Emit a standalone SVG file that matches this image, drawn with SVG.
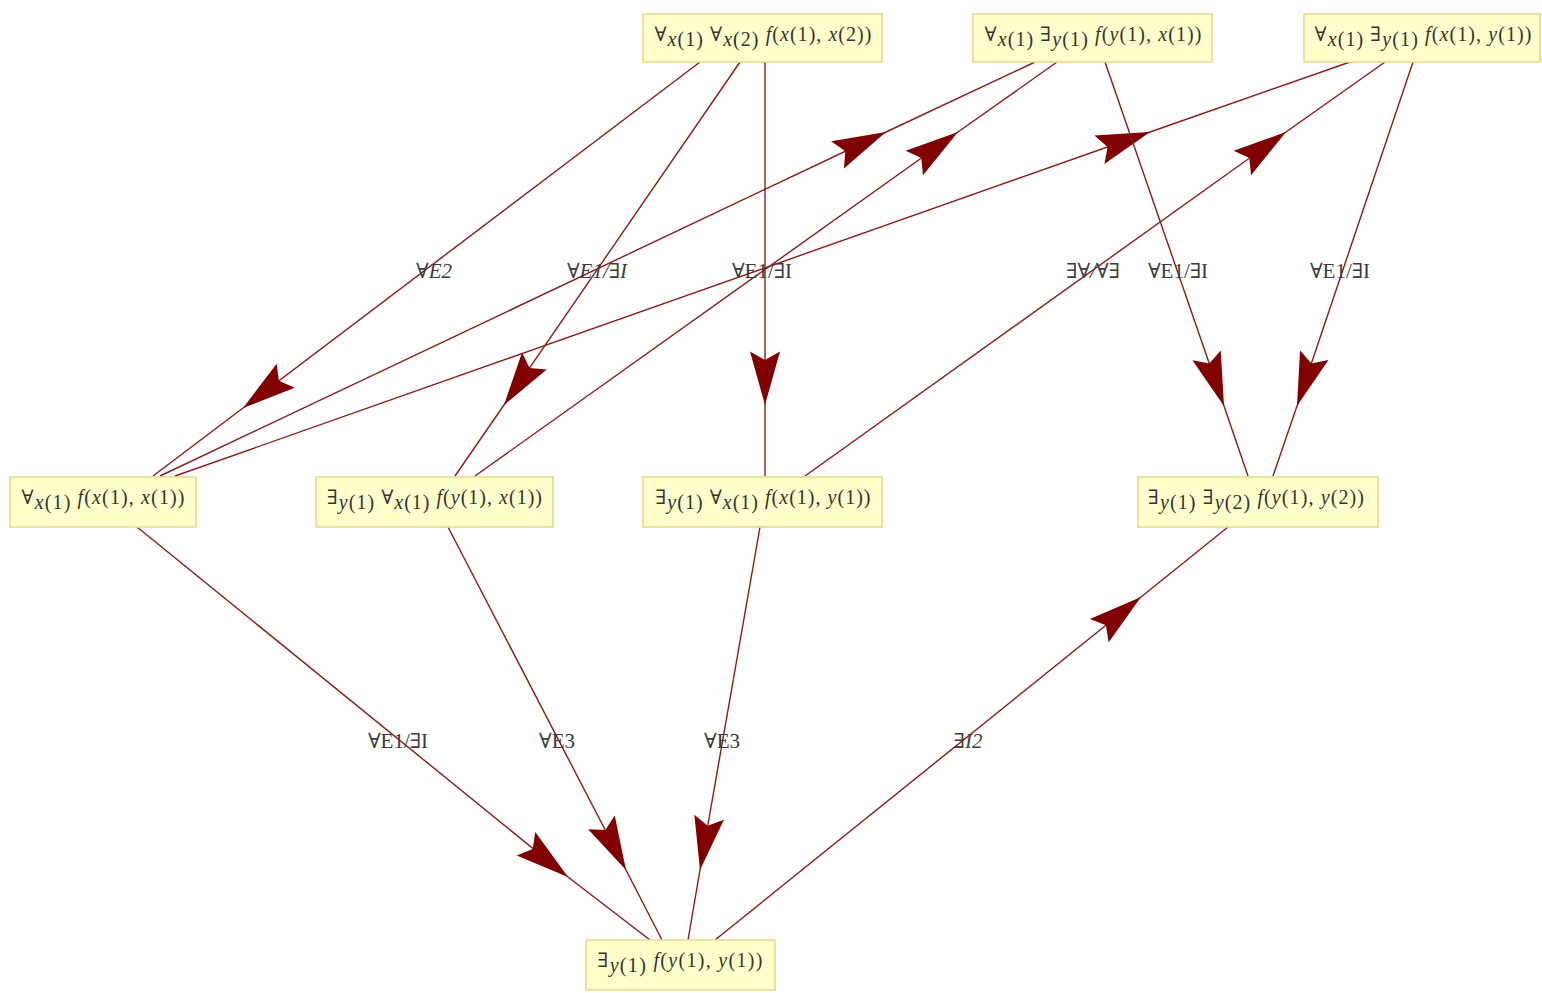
<svg xmlns="http://www.w3.org/2000/svg" width="1542" height="993" viewBox="0 0 1542 993">
<style>
.box{fill:#ffffcc;stroke:#e3da88;stroke-width:1.5}
.nt{font-family:"Liberation Serif","DejaVu Serif",serif;font-size:20px;fill:#333;text-anchor:middle}
.i{font-style:italic}
.e{fill:none;stroke:#8b1a1a;stroke-width:1.4;marker-mid:url(#ah)}
.lb{font-family:"Liberation Serif","DejaVu Serif",serif;font-size:21px;fill:#3c3c3c;text-anchor:middle}
</style>
<defs>
<marker id="ah" markerUnits="userSpaceOnUse" markerWidth="60" markerHeight="40" viewBox="-52 -16 56 32" refX="0" refY="0" orient="auto">
<path d="M0,0 L-50,-14 L-42,0 L-50,14 Z" fill="#800000"/>
</marker>
</defs>
<rect width="1542" height="993" fill="#fff"/>
<g id="edges">
<polyline class="e" points="700,62 243,408 153,476"/>
<polyline class="e" points="740,62 504,405 455,476"/>
<polyline class="e" points="765,62 765,405 765,476"/>
<polyline class="e" points="160,476 886,132 1035,62"/>
<polyline class="e" points="175,476 1150,132 1350,62"/>
<polyline class="e" points="475,476 958,132 1057,62"/>
<polyline class="e" points="805,476 1286,132 1385,62"/>
<polyline class="e" points="1105,62 1224,406 1248,476"/>
<polyline class="e" points="1413,62 1297,406 1273,476"/>
<polyline class="e" points="137,527 568,877 650,940"/>
<polyline class="e" points="448,527 626,870 662,940"/>
<polyline class="e" points="760,527 700,870 688,940"/>
<polyline class="e" points="715,940 1141,597 1228,527"/>
</g>
<g id="labels">
<text class="lb i" x="434" y="278">∀E2</text>
<text class="lb i" x="597" y="278">∀E1/∃I</text>
<text class="lb" x="762" y="278">∀E1/∃I</text>
<text class="lb i" x="1093" y="278">∃∀/∀∃</text>
<text class="lb" x="1178" y="278">∀E1/∃I</text>
<text class="lb" x="1340" y="278">∀E1/∃I</text>
<text class="lb" x="398" y="748">∀E1/∃I</text>
<text class="lb" x="557" y="748">∀E3</text>
<text class="lb" x="722" y="748">∀E3</text>
<text class="lb i" x="968" y="748">∃I2</text>
</g>
<g id="n1">
<rect class="box" x="643" y="14" width="239" height="48"/>
<text class="nt" x="763" y="41" textLength="217" lengthAdjust="spacing">∀<tspan dy="5"><tspan class="i">x</tspan>(1)</tspan><tspan dy="-5"> ∀</tspan><tspan dy="5"><tspan class="i">x</tspan>(2)</tspan><tspan dy="-5"> </tspan><tspan class="i">f</tspan>(<tspan class="i">x</tspan>(1), <tspan class="i">x</tspan>(2))</text>
</g>
<g id="n2">
<rect class="box" x="973" y="14" width="239" height="48"/>
<text class="nt" x="1093" y="41" textLength="217" lengthAdjust="spacing">∀<tspan dy="5"><tspan class="i">x</tspan>(1)</tspan><tspan dy="-5"> ∃</tspan><tspan dy="5"><tspan class="i">y</tspan>(1)</tspan><tspan dy="-5"> </tspan><tspan class="i">f</tspan>(<tspan class="i">y</tspan>(1), <tspan class="i">x</tspan>(1))</text>
</g>
<g id="n3">
<rect class="box" x="1304" y="14" width="236" height="48"/>
<text class="nt" x="1423" y="41" textLength="217" lengthAdjust="spacing">∀<tspan dy="5"><tspan class="i">x</tspan>(1)</tspan><tspan dy="-5"> ∃</tspan><tspan dy="5"><tspan class="i">y</tspan>(1)</tspan><tspan dy="-5"> </tspan><tspan class="i">f</tspan>(<tspan class="i">x</tspan>(1), <tspan class="i">y</tspan>(1))</text>
</g>
<g id="m1">
<rect class="box" x="10" y="477" width="186" height="50"/>
<text class="nt" x="103" y="504" textLength="163" lengthAdjust="spacing">∀<tspan dy="5"><tspan class="i">x</tspan>(1)</tspan><tspan dy="-5"> </tspan><tspan class="i">f</tspan>(<tspan class="i">x</tspan>(1), <tspan class="i">x</tspan>(1))</text>
</g>
<g id="m2">
<rect class="box" x="316" y="477" width="237" height="50"/>
<text class="nt" x="434.500" y="504" textLength="215" lengthAdjust="spacing">∃<tspan dy="5"><tspan class="i">y</tspan>(1)</tspan><tspan dy="-5"> ∀</tspan><tspan dy="5"><tspan class="i">x</tspan>(1)</tspan><tspan dy="-5"> </tspan><tspan class="i">f</tspan>(<tspan class="i">y</tspan>(1), <tspan class="i">x</tspan>(1))</text>
</g>
<g id="m3">
<rect class="box" x="643" y="477" width="239" height="50"/>
<text class="nt" x="763" y="504" textLength="215" lengthAdjust="spacing">∃<tspan dy="5"><tspan class="i">y</tspan>(1)</tspan><tspan dy="-5"> ∀</tspan><tspan dy="5"><tspan class="i">x</tspan>(1)</tspan><tspan dy="-5"> </tspan><tspan class="i">f</tspan>(<tspan class="i">x</tspan>(1), <tspan class="i">y</tspan>(1))</text>
</g>
<g id="m4">
<rect class="box" x="1138" y="477" width="240" height="50"/>
<text class="nt" x="1256" y="504" textLength="216" lengthAdjust="spacing">∃<tspan dy="5"><tspan class="i">y</tspan>(1)</tspan><tspan dy="-5"> ∃</tspan><tspan dy="5"><tspan class="i">y</tspan>(2)</tspan><tspan dy="-5"> </tspan><tspan class="i">f</tspan>(<tspan class="i">y</tspan>(1), <tspan class="i">y</tspan>(2))</text>
</g>
<g id="b">
<rect class="box" x="586" y="940" width="189" height="50"/>
<text class="nt" x="680" y="967" textLength="165" lengthAdjust="spacing">∃<tspan dy="5"><tspan class="i">y</tspan>(1)</tspan><tspan dy="-5"> </tspan><tspan class="i">f</tspan>(<tspan class="i">y</tspan>(1), <tspan class="i">y</tspan>(1))</text>
</g>
</svg>
